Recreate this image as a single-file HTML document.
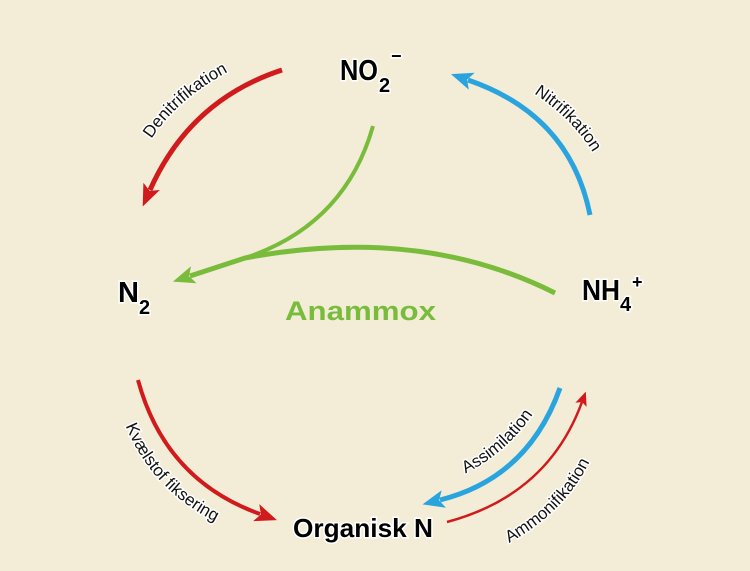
<!DOCTYPE html>
<html><head><meta charset="utf-8"><style>
html,body{margin:0;padding:0;background:#f3ecd7;}
svg{display:block;}
.lbl{font-family:"Liberation Sans",sans-serif;font-size:17px;fill:#111;stroke:#fff;stroke-width:3px;paint-order:stroke;stroke-linejoin:round;}
.big{font-family:"Liberation Sans",sans-serif;font-weight:bold;fill:#000;stroke:#fff;stroke-width:3px;paint-order:stroke;}
</style></head><body>
<svg width="750" height="571" viewBox="0 0 750 571" xmlns="http://www.w3.org/2000/svg">
<defs>
<marker id="ar" markerUnits="userSpaceOnUse" markerWidth="26" markerHeight="26" refX="4" refY="10" orient="auto"><path d="M0,1 L22,10 L0,19 L5,10 Z" fill="#d11a1b"/></marker>
<marker id="ab" markerUnits="userSpaceOnUse" markerWidth="26" markerHeight="26" refX="4" refY="10" orient="auto"><path d="M0,1 L22,10 L0,19 L5,10 Z" fill="#2aa4df"/></marker>
<marker id="ag" markerUnits="userSpaceOnUse" markerWidth="26" markerHeight="26" refX="4" refY="10" orient="auto"><path d="M0,1 L22,10 L0,19 L5,10 Z" fill="#79bc3c"/></marker>
<marker id="ar2" markerUnits="userSpaceOnUse" markerWidth="20" markerHeight="20" refX="3" refY="7" orient="auto"><path d="M0,1 L14,7 L0,13 L3,7 Z" fill="#d11a1b"/></marker>
<path id="t1" d="M136,168 Q166,95 258,58"/>
<path id="t2" d="M511,80 Q580,116 605,176"/>
<path id="t3" d="M116,396 Q141,497 244,534"/>
<path id="t4" d="M446,482 Q510,458 544,396"/>
<path id="t5" d="M484,555 Q574,517 600,436"/>
</defs>
<g fill="none" stroke-linecap="butt">
<path d="M282,70 Q190,100 150,190" stroke="#d11a1b" stroke-width="5" marker-end="url(#ar)"/>
<path d="M590,215 Q570,115 468,80" stroke="#2aa4df" stroke-width="5" marker-end="url(#ab)"/>
<path d="M373,126 Q345,225 245,258" stroke="#79bc3c" stroke-width="4"/>
<path d="M555,293 Q420,225 245,258 L190,276" stroke="#79bc3c" stroke-width="5" marker-end="url(#ag)"/>
<path d="M138,380 Q165,480 260,514" stroke="#d11a1b" stroke-width="4" marker-end="url(#ar)"/>
<path d="M560,388 Q528,478 440,500" stroke="#2aa4df" stroke-width="5" marker-end="url(#ab)"/>
<path d="M447,522 Q548,495 582,402" stroke="#d11a1b" stroke-width="2.5" marker-end="url(#ar2)"/>
</g>
<text class="lbl"><textPath href="#t1" startOffset="50%" text-anchor="middle">Denitrifikation</textPath></text>
<text class="lbl"><textPath href="#t2" startOffset="50%" text-anchor="middle">Nitrifikation</textPath></text>
<text class="lbl"><textPath href="#t3" startOffset="50%" text-anchor="middle">Kvælstof fiksering</textPath></text>
<text class="lbl"><textPath href="#t4" startOffset="50%" text-anchor="middle">Assimilation</textPath></text>
<text class="lbl"><textPath href="#t5" startOffset="50%" text-anchor="middle">Ammonifikation</textPath></text>
<text class="big" x="340" y="80" font-size="29" textLength="38" lengthAdjust="spacingAndGlyphs">NO</text>
<text class="big" x="379" y="92" font-size="20">2</text>
<text class="big" x="391" y="62" font-size="18">−</text>
<text class="big" x="118" y="302" font-size="29">N</text>
<text class="big" x="139" y="314" font-size="20">2</text>
<text class="big" x="582" y="300" font-size="29" textLength="38" lengthAdjust="spacingAndGlyphs">NH</text>
<text class="big" x="620" y="311" font-size="20">4</text>
<text class="big" x="632" y="288" font-size="18">+</text>
<text x="285" y="320" font-family="Liberation Sans,sans-serif" font-weight="bold" font-size="27" fill="#79bc3c" textLength="151" lengthAdjust="spacingAndGlyphs">Anammox</text>
<text class="big" x="293" y="537" font-size="26" textLength="140" lengthAdjust="spacingAndGlyphs">Organisk N</text>
</svg>
</body></html>
